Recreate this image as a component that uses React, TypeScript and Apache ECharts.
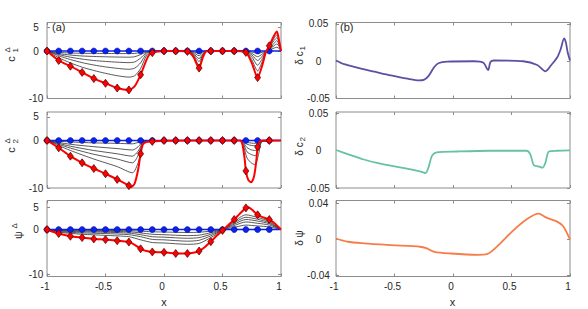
import React, { useEffect, useRef } from "react";
import * as echarts from "echarts";

// ---------- shared ----------
const markerX = [-1, -0.9, -0.8, -0.7, -0.6, -0.5, -0.4, -0.3, -0.2, -0.1, 0, 0.1, 0.2, 0.3, 0.4, 0.5, 0.6, 0.7, 0.8, 0.9];
const blueValues = [0, 0, 0, 0, 0, 0, 0, 0, 0, 0, 0, 0, 0, 0, 0, 0, 0, 0, 0, 0];
const blueLineX = [-1, 1];
const blueLineY = [0, 0];
const xTickLabels = [-1, -0.5, 0, 0.5, 1];

// ---------- (a) c1 ----------
const c1RedX = [-1, -0.9, -0.8, -0.7, -0.6, -0.5, -0.4, -0.3, -0.25, -0.2, -0.16, -0.13, -0.1, -0.05, 0, 0.1, 0.2, 0.25, 0.3, 0.33, 0.36, 0.4, 0.5, 0.6, 0.7, 0.75, 0.8, 0.84, 0.87, 0.9, 0.94, 0.965, 0.985, 1];
const c1RedY = [0, -2.0, -3.2, -4.5, -5.8, -6.8, -7.8, -8.2, -7.4, -5.0, -2.5, -0.9, -0.35, -0.1, 0, 0, -0.1, -1.2, -3.6, -1.5, -0.1, 0, 0, 0, -0.3, -2.5, -5.6, -3.0, -0.3, 1.1, 3.2, 4.1, 2.0, 0];
const c1Diamonds = [0, -2.0, -3.2, -4.5, -5.8, -6.8, -7.8, -8.2, -5.0, -0.35, 0, 0, -0.1, -3.6, 0, 0, 0, -0.3, -5.6, 1.1];
const c1BlackX = [-1, -0.9, -0.8, -0.7, -0.6, -0.5, -0.4, -0.3, -0.25, -0.2, -0.15, -0.1, 0, 0.2, 0.25, 0.3, 0.33, 0.36, 0.4, 0.7, 0.75, 0.8, 0.84, 0.87, 0.9, 0.94, 0.965, 0.985, 1];
const c1Black1 = [0, -0.3, -0.42, -0.48, -0.5, -0.52, -0.54, -0.55, -0.5, -0.3, -0.08, 0, 0, 0, -0.15, -0.5, -0.2, 0, 0, 0, -0.2, -0.5, -0.3, -0.05, 0.2, 0.6, 0.8, 0.5, 0];
const c1Black2 = [0, -0.55, -0.85, -1.05, -1.15, -1.22, -1.27, -1.3, -1.2, -0.75, -0.2, 0, 0, 0, -0.3, -1.0, -0.4, 0, 0, 0, -0.5, -1.2, -0.65, -0.1, 0.35, 1.1, 1.5, 0.9, 0];
const c1Black3 = [0, -0.75, -1.3, -1.7, -2.0, -2.2, -2.35, -2.45, -2.3, -1.5, -0.35, -0.05, 0, 0, -0.5, -1.6, -0.7, -0.05, 0, -0.05, -0.8, -2.0, -1.1, -0.15, 0.55, 1.6, 2.2, 1.2, 0];
const c1Black4 = [0, -1.0, -1.8, -2.45, -2.95, -3.35, -3.65, -3.85, -3.6, -2.5, -0.6, -0.1, 0, 0, -0.7, -2.2, -0.9, -0.05, 0, -0.1, -1.2, -3.0, -1.6, -0.2, 0.75, 2.2, 2.8, 1.5, 0];
const c1Black5 = [0, -1.4, -2.5, -3.4, -4.1, -4.7, -5.2, -5.5, -5.2, -3.7, -1.0, -0.2, 0, -0.05, -0.9, -3.0, -1.2, -0.1, 0, -0.2, -1.8, -4.2, -2.2, -0.25, 0.9, 2.7, 3.4, 1.8, 0];

// ---------- (a) c2 ----------
const c2RedX = [-1, -0.9, -0.8, -0.7, -0.6, -0.5, -0.4, -0.3, -0.28, -0.25, -0.22, -0.2, -0.18, -0.15, -0.1, 0, 0.2, 0.65, 0.67, 0.69, 0.7, 0.72, 0.745, 0.77, 0.79, 0.8, 0.82, 0.85, 1];
const c2RedY = [0, -1.55, -3.3, -4.7, -5.9, -7.0, -8.2, -9.5, -9.8, -9.0, -6.0, -2.8, -0.8, -0.3, -0.2, -0.05, 0, 0, -0.8, -4.0, -6.4, -8.3, -8.8, -7.5, -4.0, -1.35, -0.2, 0, 0];
const c2Diamonds = [0, -1.55, -3.3, -4.7, -5.9, -7.0, -8.2, -9.5, -2.8, -0.2, 0, 0, 0, 0, 0, 0, 0, -6.4, -1.35, 0];
const c2BlackX = [-1, -0.8, -0.6, -0.4, -0.27, -0.22, -0.18, -0.15, 0, 0.65, 0.68, 0.71, 0.75, 0.78, 0.81, 0.84, 1];
const c2Black1 = [0, -0.3, -0.5, -0.6, -0.7, -0.4, -0.05, 0, 0, 0, -0.15, -0.4, -0.55, -0.6, -0.3, 0, 0];
const c2Black2 = [0, -0.8, -1.3, -1.7, -2.0, -1.3, -0.2, -0.05, 0, 0, -0.3, -0.8, -1.05, -1.1, -0.6, -0.05, 0];
const c2Black3 = [0, -1.2, -2.1, -2.8, -3.3, -2.2, -0.3, -0.1, 0, 0, -0.5, -1.5, -2.0, -2.1, -1.1, -0.1, 0];
const c2Black4 = [0, -1.6, -2.9, -3.9, -4.7, -3.1, -0.45, -0.15, 0, 0, -0.8, -2.4, -3.0, -3.2, -1.7, -0.15, 0];
const c2Black5 = [0, -2.1, -3.9, -5.5, -6.8, -4.6, -0.6, -0.2, 0, 0, -1.2, -3.7, -4.8, -5.1, -2.7, -0.25, 0];

// ---------- (a) psi ----------
const psiRedX = [-1, -0.95, -0.9, -0.8, -0.7, -0.6, -0.5, -0.4, -0.3, -0.25, -0.2, -0.15, -0.1, 0, 0.1, 0.2, 0.25, 0.3, 0.35, 0.4, 0.45, 0.5, 0.55, 0.6, 0.65, 0.7, 0.72, 0.75, 0.8, 0.85, 0.9, 0.95, 1];
const psiRedY = [0, -0.5, -0.9, -1.5, -1.8, -2.1, -2.25, -2.5, -2.8, -3.4, -4.3, -4.8, -5.0, -5.1, -5.35, -5.35, -5.2, -4.8, -3.9, -2.7, -1.4, -0.2, 1.0, 2.25, 3.6, 4.85, 5.0, 4.5, 3.3, 2.7, 2.25, 1.3, 0];
const psiDiamonds = [0, -0.9, -1.5, -1.8, -2.1, -2.25, -2.5, -2.8, -4.3, -5.0, -5.1, -5.35, -5.35, -4.8, -2.7, -0.2, 2.25, 4.85, 3.3, 2.25];
const psiBlackX = [-1, -0.9, -0.7, -0.5, -0.3, -0.2, -0.1, 0, 0.2, 0.3, 0.4, 0.5, 0.6, 0.7, 0.8, 0.9, 1];
const psiBlack1 = [0, -0.1, -0.15, -0.2, -0.25, -0.35, -0.5, -0.55, -0.65, -0.6, -0.35, 0, 0.5, 1.0, 0.8, 0.6, 0];
const psiBlack2 = [0, -0.2, -0.3, -0.4, -0.5, -0.75, -1.05, -1.15, -1.35, -1.25, -0.7, 0, 0.9, 1.7, 1.4, 1.0, 0];
const psiBlack3 = [0, -0.3, -0.5, -0.6, -0.8, -1.15, -1.6, -1.7, -1.95, -1.8, -1.05, 0, 1.2, 2.25, 1.9, 1.3, 0];
const psiBlack4 = [0, -0.45, -0.75, -0.9, -1.15, -1.6, -2.2, -2.3, -2.6, -2.4, -1.4, -0.05, 1.5, 2.75, 2.3, 1.55, 0];
const psiBlack5 = [0, -0.6, -1.05, -1.3, -1.6, -2.3, -2.9, -3.0, -3.3, -3.1, -1.8, -0.1, 1.8, 3.3, 2.7, 1.8, 0];

// ---------- (b) ----------
const dc1X = [-1, -0.93, -0.82, -0.67, -0.53, -0.39, -0.29, -0.25, -0.21, -0.16, -0.12, -0.05, 0.18, 0.26, 0.3, 0.32, 0.35, 0.6, 0.72, 0.79, 0.84, 0.89, 0.92, 0.95, 0.965, 0.98, 1];
const dc1Y = [0.001, -0.004, -0.0086, -0.014, -0.019, -0.0234, -0.0257, -0.025, -0.02, -0.0077, -0.0023, -0.0005, 0, -0.002, -0.012, -0.001, 0.001, 0, -0.005, -0.0135, -0.005, 0.005, 0.016, 0.0306, 0.025, 0.012, 0.001];
const dc2X = [-1, -0.9, -0.77, -0.65, -0.5, -0.36, -0.26, -0.235, -0.21, -0.18, -0.14, 0.04, 0.32, 0.63, 0.66, 0.69, 0.73, 0.765, 0.79, 0.82, 0.89, 1];
const dc2Y = [0.001, -0.0045, -0.0114, -0.0164, -0.021, -0.025, -0.0286, -0.03, -0.0227, -0.0068, -0.0023, -0.001, 0, 0, -0.0045, -0.019, -0.021, -0.0227, -0.016, -0.001, 0, 0.0005];
const dpsiX = [-1, -0.9, -0.76, -0.53, -0.28, -0.23, -0.16, -0.02, 0.21, 0.29, 0.38, 0.5, 0.63, 0.73, 0.8, 0.89, 0.94, 0.97, 1];
const dpsiY = [0.001, -0.0026, -0.0044, -0.0063, -0.0081, -0.0096, -0.0137, -0.0156, -0.017, -0.0163, -0.0074, 0.0081, 0.0222, 0.0285, 0.024, 0.0196, 0.0148, 0.008, 0];

// ---------- axes ----------
const yMins = [-10, -10, -10.5, -0.05, -0.05, -0.041];
const yMaxs = [6, 6, 6.5, 0.052, 0.052, 0.043];
const yTickLabels = [
  [-10, 0, 5],
  [-10, 0, 5],
  [-10, 0, 5],
  [-0.05, 0, 0.05],
  [-0.05, 0, 0.05],
  [-0.04, 0, 0.04],
];

const FONT = "'Liberation Sans', Arial, Helvetica, sans-serif";
const BOX = "#8c8c8c";
const TXT = "#262626";
const RED = "#ff0000";
const BLUE = "#0a22ee";
const BLACK = "#2e2e2e";
const PURPLE = "#5e4fa2";
const GREEN = "#66c2a5";
const ORANGE = "#f67d4a";

const pairs = (xs: number[], ys: number[]) => xs.map((x, i) => [x, ys[i]]);

function leftSeries(idx: number, blackX: number[], blacks: number[][], redX: number[], redY: number[], diamonds: number[]) {
  const s: any[] = [];
  blacks.forEach((b) => {
    s.push({
      type: "line", xAxisIndex: idx, yAxisIndex: idx, data: pairs(blackX, b),
      showSymbol: false, smooth: 0.25, z: 2,
      lineStyle: { color: BLACK, width: 0.8 },
    });
  });
  s.push({
    type: "line", xAxisIndex: idx, yAxisIndex: idx, data: pairs(blueLineX, blueLineY),
    showSymbol: false, z: 3, lineStyle: { color: BLUE, width: 1.6 },
  });
  s.push({
    type: "scatter", xAxisIndex: idx, yAxisIndex: idx, data: pairs(markerX, blueValues),
    symbol: "circle", symbolSize: 6, z: 4,
    itemStyle: { color: BLUE, borderColor: "#00008a", borderWidth: 0.5, opacity: 1 },
  });
  s.push({
    type: "line", xAxisIndex: idx, yAxisIndex: idx, data: pairs(redX, redY),
    showSymbol: false, smooth: 0.25, z: 5, lineStyle: { color: RED, width: 2 },
  });
  s.push({
    type: "scatter", xAxisIndex: idx, yAxisIndex: idx, data: pairs(markerX, diamonds),
    symbol: "diamond", symbolSize: [6, 8], z: 6,
    itemStyle: { color: RED, borderColor: "#4a0000", borderWidth: 0.7, opacity: 1 },
  });
  return s;
}

function rightSeries(idx: number, xs: number[], ys: number[], color: string) {
  return {
    type: "line", xAxisIndex: idx, yAxisIndex: idx, data: pairs(xs, ys),
    showSymbol: false, smooth: 0.3, z: 2, lineStyle: { color, width: 1.8 },
  };
}

function txt(x: number, y: number, text: string, size: number, align = "center") {
  return {
    type: "text", x, y,
    style: { text, fontSize: size, fontFamily: FONT, fill: TXT, align, textAlign: align, verticalAlign: "middle", textVerticalAlign: "middle" },
  };
}

function rotLabel(x: number, y: number, children: any[]) {
  return { type: "group", x, y, rotation: Math.PI / 2, children };
}

function buildOption() {
  const lefts = [47, 47, 47, 336, 336, 336];
  const tops = [22.5, 112, 200.5, 22.5, 112, 200.5];
  const grid = lefts.map((l, i) => ({
    left: l, top: tops[i], width: 234, height: 76, show: true,
    borderColor: BOX, borderWidth: 1, backgroundColor: "transparent",
  }));

  const xAxis: any[] = [];
  const yAxis: any[] = [];
  for (let i = 0; i < 6; i++) {
    const bottomRow = i === 2 || i === 5;
    xAxis.push({
      gridIndex: i, type: "value", position: "bottom", min: -1, max: 1, interval: 0.5,
      axisLine: { show: false, onZero: false }, splitLine: { show: false },
      axisTick: { show: true, inside: true, length: 3, lineStyle: { color: BOX } },
      axisLabel: {
        show: bottomRow, fontSize: 10, fontFamily: FONT, color: TXT, margin: 5,
        showMinLabel: true, showMaxLabel: true, padding: [0, 4, 0, 0],
        customValues: xTickLabels,
      },
    });
    const left = i < 3;
    yAxis.push({
      gridIndex: i, type: "value", position: "left", min: yMins[i], max: yMaxs[i],
      axisLine: { show: false, onZero: false }, splitLine: { show: false },
      axisTick: { show: true, inside: true, length: 3, lineStyle: { color: BOX }, customValues: yTickLabels[i] },
      axisLabel: {
        show: true, fontSize: 10, fontFamily: FONT, color: TXT, align: "center",
        margin: left ? 11 : 17.5, customValues: yTickLabels[i],
      },
    });
  }
  for (let i = 0; i < 6; i++) {
    xAxis.push({
      gridIndex: i, type: "value", position: "top", min: -1, max: 1, interval: 0.5,
      axisLine: { show: false, onZero: false }, splitLine: { show: false },
      axisTick: { show: true, inside: true, length: 3, lineStyle: { color: BOX } },
      axisLabel: { show: false },
    });
    yAxis.push({
      gridIndex: i, type: "value", position: "right", min: yMins[i], max: yMaxs[i],
      axisLine: { show: false, onZero: false }, splitLine: { show: false },
      axisTick: { show: true, inside: true, length: 3, lineStyle: { color: BOX }, customValues: yTickLabels[i] },
      axisLabel: { show: false },
    });
  }

  const series: any[] = [
    ...leftSeries(0, c1BlackX, [c1Black1, c1Black2, c1Black3, c1Black4, c1Black5], c1RedX, c1RedY, c1Diamonds),
    ...leftSeries(1, c2BlackX, [c2Black1, c2Black2, c2Black3, c2Black4, c2Black5], c2RedX, c2RedY, c2Diamonds),
    ...leftSeries(2, psiBlackX, [psiBlack1, psiBlack2, psiBlack3, psiBlack4, psiBlack5], psiRedX, psiRedY, psiDiamonds),
    rightSeries(3, dc1X, dc1Y, PURPLE),
    rightSeries(4, dc2X, dc2Y, GREEN),
    rightSeries(5, dpsiX, dpsiY, ORANGE),
  ];

  const graphic = [
    txt(52, 27, "(a)", 11, "left"),
    txt(340, 27, "(b)", 11, "left"),
    txt(164, 301.5, "x", 11),
    txt(452.5, 301.5, "x", 11),
    rotLabel(11, 56, [txt(-3, 0, "c", 11), txt(3.5, -4, "Δ", 8, "left"), txt(3.5, 4, "1", 8, "left")]),
    rotLabel(11, 147, [txt(-3, 0, "c", 11), txt(3.5, -4, "Δ", 8, "left"), txt(3.5, 4, "2", 8, "left")]),
    rotLabel(18, 232, [txt(-3, 0, "ψ", 11), txt(3.5, -4, "Δ", 8, "left")]),
    rotLabel(299, 54, [txt(-4, 0, "δ c", 10), txt(3.5, 3.5, "1", 8, "left")]),
    rotLabel(299, 145, [txt(-4, 0, "δ c", 10), txt(3.5, 3.5, "2", 8, "left")]),
    rotLabel(299, 238, [txt(0, 0, "δ ψ", 10)]),
  ];

  return { animation: false, backgroundColor: "#ffffff", grid, xAxis, yAxis, series, graphic };
}

export default function App() {
  const ref = useRef<HTMLDivElement>(null);
  useEffect(() => {
    const chart = echarts.init(ref.current as HTMLDivElement, null, { renderer: "svg" });
    chart.setOption(buildOption() as any);
    return () => chart.dispose();
  }, []);
  return (
    <div
      ref={ref}
      style={{ position: "absolute", left: 0, top: 0, width: 588, height: 309, background: "#fff" }}
    />
  );
}
